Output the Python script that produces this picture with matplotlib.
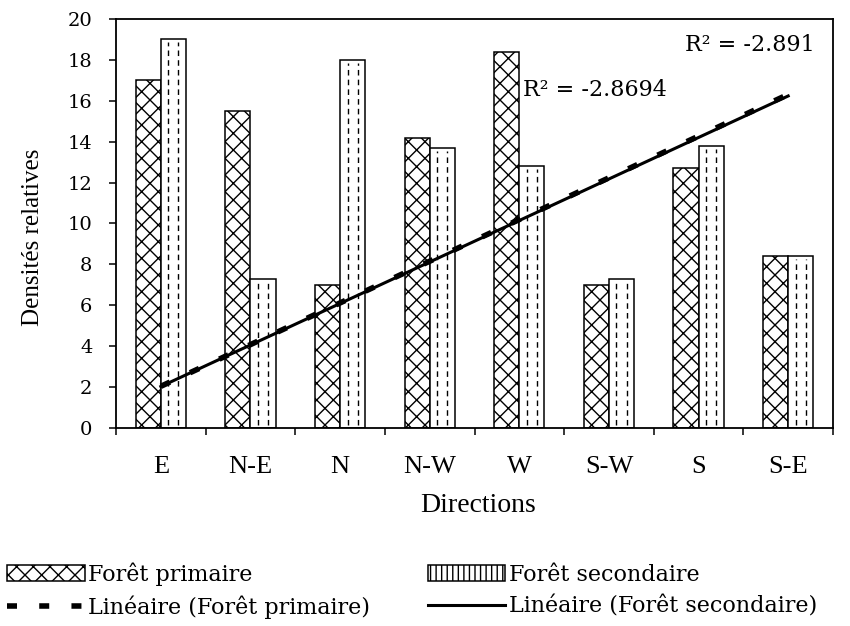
import numpy as np
import matplotlib
matplotlib.use('Agg')
import matplotlib.pyplot as plt
from matplotlib.patches import Patch
from matplotlib.lines import Line2D

# ---- data ----
directions = ['E', 'N-E', 'N', 'N-W', 'W', 'S-W', 'S', 'S-E']
foret_primaire = [17.0, 15.5, 7.0, 14.2, 18.4, 7.0, 12.7, 8.4]
foret_secondaire = [19.0, 7.3, 18.0, 13.7, 12.8, 7.3, 13.8, 8.4]
r2_primaire = '-2.8694'
r2_secondaire = '-2.891'

serif_num = 'DejaVu Serif'
serif_txt = 'Liberation Serif'


def trend_origin(vals):
    # linear trend forced through 0 (x = 1..n), as the spreadsheet did
    x = np.arange(1, len(vals) + 1)
    y = np.array(vals)
    b = (x * y).sum() / (x * x).sum()
    return b * x


fig = plt.figure(figsize=(8.5, 6.26), dpi=100)
ax = fig.add_axes([0.1365, 0.3163, 0.8435, 0.6534])

pos = np.arange(len(directions))
w = 0.28

bars_p = ax.bar(pos - w / 2, foret_primaire, w, color='white', edgecolor='black',
                hatch='xx', linewidth=1.1, zorder=2)
bars_s = ax.bar(pos + w / 2, foret_secondaire, w, color='white', edgecolor='black',
                linewidth=1.1, zorder=2)

# dashed vertical fill in secondary bars
for p in bars_s:
    x0 = p.get_x()
    bw = p.get_width()
    h = p.get_height()
    for fx in (0.3, 0.7):
        ax.plot([x0 + fx * bw, x0 + fx * bw], [0.15, h - 0.15], color='black',
                lw=1.0, ls=(0, (4, 3)), zorder=3)

# trend lines
ax.plot(pos, trend_origin(foret_secondaire), color='black', lw=2.2, zorder=4)
ax.plot(pos, trend_origin(foret_primaire), color='black', lw=4,
        ls=(0, (1.8, 4)), zorder=5)

ax.text(0.794, 0.936, 'R² = ' + r2_secondaire, transform=ax.transAxes,
        fontsize=16, family=serif_num, va='center', ha='left')
ax.text(0.568, 0.826, 'R² = ' + r2_primaire, transform=ax.transAxes,
        fontsize=16, family=serif_num, va='center', ha='left')

ax.set_xlim(-0.5, len(directions) - 0.5)
ax.set_ylim(0, 20)
ax.set_yticks(np.arange(0, 21, 2))
ax.tick_params(axis='y', direction='out', length=5, width=1.1, pad=12, labelsize=14)
for lab in ax.get_yticklabels():
    lab.set_family(serif_num)

ax.set_xticks(np.arange(-0.5, len(directions), 1))
ax.set_xticklabels([])
ax.tick_params(axis='x', which='major', direction='out', length=5, width=1.1)
ax.set_xticks(pos, minor=True)
ax.set_xticklabels(directions, minor=True, fontsize=19, family=serif_txt)
ax.tick_params(axis='x', which='minor', length=0, pad=20)

for s in ax.spines.values():
    s.set_linewidth(1.3)

fig.text(33 / 850, 0.621, 'Densités relatives', rotation=90, ha='center', va='center',
         fontsize=18, family=serif_txt)
fig.text(0.562, 0.193, 'Directions', ha='center', va='center',
         fontsize=20, family=serif_txt)

handles = [
    Patch(facecolor='white', edgecolor='black', hatch='xx', linewidth=1.1),
    Line2D([], [], color='black', lw=4, ls=(0, (1.8, 4))),
    Patch(facecolor='white', edgecolor='black', hatch='|||', linewidth=1.1),
    Line2D([], [], color='black', lw=2.2),
]
labels = ['Forêt primaire', 'Linéaire (Forêt primaire)',
          'Forêt secondaire', 'Linéaire (Forêt secondaire)']
fig.legend(handles, labels, ncol=2, loc='upper left', bbox_to_anchor=(0.008, 0.102),
           frameon=False, prop={'family': serif_num, 'size': 16},
           handlelength=3.5, handletextpad=0.15, columnspacing=2.6,
           labelspacing=0.45, borderpad=0, borderaxespad=0)

plt.savefig('out.png', dpi=100)
